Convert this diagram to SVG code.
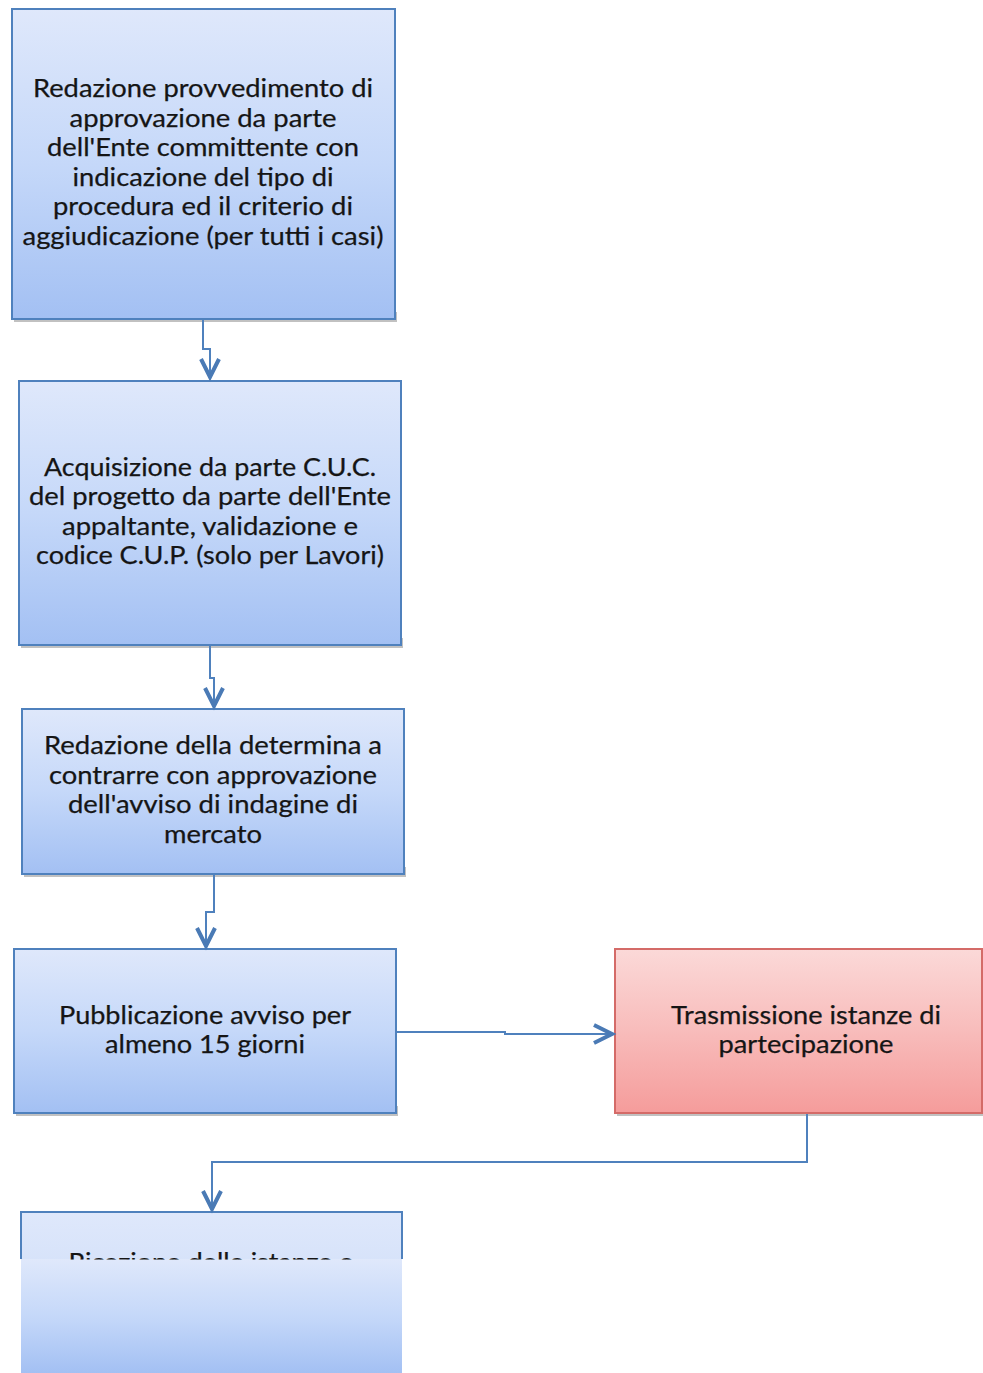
<svg xmlns="http://www.w3.org/2000/svg" width="983" height="1373" viewBox="0 0 983 1373">
<defs>
<linearGradient id="gBlue" x1="0" y1="0" x2="0" y2="1">
<stop offset="0" stop-color="#dfe8fb"/>
<stop offset="0.5" stop-color="#c5d8f9"/>
<stop offset="1" stop-color="#a3c0f3"/>
</linearGradient>
<linearGradient id="gRed" x1="0" y1="0" x2="0" y2="1">
<stop offset="0" stop-color="#fbd9d8"/>
<stop offset="0.5" stop-color="#f8bcbb"/>
<stop offset="1" stop-color="#f59c9b"/>
</linearGradient>
<linearGradient id="gBlueTop" x1="0" y1="0" x2="0" y2="1">
<stop offset="0" stop-color="#dfe8fb"/>
<stop offset="1" stop-color="#d7e3fa"/>
</linearGradient>
<clipPath id="cut"><rect x="0" y="1200" width="983" height="59.5"/></clipPath>
</defs>
<style>
.box{fill:url(#gBlue);stroke:#4f81bd;stroke-width:2}
.red{fill:url(#gRed);stroke:#d46b68;stroke-width:2}
.sh{fill:#8e8e8e;opacity:0.55}
.t{font-family:Lato,"Open Sans","Liberation Sans",sans-serif;font-size:25px;fill:#151515;text-anchor:middle;stroke:#151515;stroke-width:0.25}
.c{fill:none;stroke:#4f81bd;stroke-width:2}
.a{fill:none;stroke:#4a7ab5;stroke-width:4;stroke-linejoin:miter}
</style>
<rect width="983" height="1373" fill="#ffffff"/>

<g id="n1">
<rect class="sh" x="14" y="312" width="383" height="10"/>
<rect class="box" x="12" y="9" width="383" height="310"/>
<text class="t" x="203" y="97" textLength="340" lengthAdjust="spacingAndGlyphs">Redazione provvedimento di</text>
<text class="t" x="203" y="127" textLength="267" lengthAdjust="spacingAndGlyphs">approvazione da parte</text>
<text class="t" x="203" y="156" textLength="312" lengthAdjust="spacingAndGlyphs">dell'Ente committente con</text>
<text class="t" x="203" y="186" textLength="261" lengthAdjust="spacingAndGlyphs">indicazione del tipo di</text>
<text class="t" x="203" y="215" textLength="300" lengthAdjust="spacingAndGlyphs">procedura ed il criterio di</text>
<text class="t" x="203" y="245" textLength="361" lengthAdjust="spacingAndGlyphs">aggiudicazione (per tutti i casi)</text>
</g>

<g id="n2">
<rect class="sh" x="21" y="638" width="382" height="10"/>
<rect class="box" x="19" y="381" width="382" height="264"/>
<text class="t" x="210" y="476" textLength="332" lengthAdjust="spacingAndGlyphs">Acquisizione da parte C.U.C.</text>
<text class="t" x="210" y="505" textLength="362" lengthAdjust="spacingAndGlyphs">del progetto da parte dell'Ente</text>
<text class="t" x="210" y="535" textLength="296" lengthAdjust="spacingAndGlyphs">appaltante, validazione e</text>
<text class="t" x="210" y="564" textLength="348" lengthAdjust="spacingAndGlyphs">codice C.U.P. (solo per Lavori)</text>
</g>

<g id="n3">
<rect class="sh" x="24" y="867" width="382" height="10"/>
<rect class="box" x="22" y="709" width="382" height="165"/>
<text class="t" x="213" y="754" textLength="338" lengthAdjust="spacingAndGlyphs">Redazione della determina a</text>
<text class="t" x="213" y="784" textLength="328" lengthAdjust="spacingAndGlyphs">contrarre con approvazione</text>
<text class="t" x="213" y="813" textLength="290" lengthAdjust="spacingAndGlyphs">dell'avviso di indagine di</text>
<text class="t" x="213" y="843" textLength="98" lengthAdjust="spacingAndGlyphs">mercato</text>
</g>

<g id="n4">
<rect class="sh" x="16" y="1106" width="382" height="10"/>
<rect class="box" x="14" y="949" width="382" height="164"/>
<text class="t" x="205" y="1024" textLength="292" lengthAdjust="spacingAndGlyphs">Pubblicazione avviso per</text>
<text class="t" x="205" y="1053" textLength="200" lengthAdjust="spacingAndGlyphs">almeno 15 giorni</text>
</g>

<g id="n5">
<rect class="sh" x="617" y="1106" width="366" height="10"/>
<rect class="red" x="615" y="949" width="367" height="164"/>
<text class="t" x="806" y="1024" textLength="270" lengthAdjust="spacingAndGlyphs">Trasmissione istanze di</text>
<text class="t" x="806" y="1053" textLength="175" lengthAdjust="spacingAndGlyphs">partecipazione</text>
</g>

<g id="n6">
<rect x="21" y="1212" width="381" height="48" fill="url(#gBlueTop)"/>
<rect x="21" y="1259" width="381" height="114" fill="url(#gBlue)"/>
<path d="M21 1259 V1212 H402 V1259" fill="none" stroke="#4f81bd" stroke-width="2"/>
<g clip-path="url(#cut)">
<text class="t" x="211" y="1271" textLength="285" lengthAdjust="spacingAndGlyphs">Ricezione delle istanze e</text>
</g>
</g>

<g id="connectors">
<path class="c" d="M203 320 V349 H210 V376"/>
<path class="a" d="M201 359 L210 377 L219 359"/>
<path class="c" d="M210 646 V678 H214 V706"/>
<path class="a" d="M205 688 L214 706 L223 688"/>
<path class="c" d="M214 875 V912 H206 V946"/>
<path class="a" d="M197 928 L206 946 L215 928"/>
<path class="c" d="M396 1032 H505 V1034 H611"/>
<path class="a" d="M594 1025 L612 1034 L594 1043"/>
<path class="c" d="M807 1114 V1162 H212 V1209"/>
<path class="a" d="M203 1191 L212 1209 L221 1191"/>
</g>
</svg>
